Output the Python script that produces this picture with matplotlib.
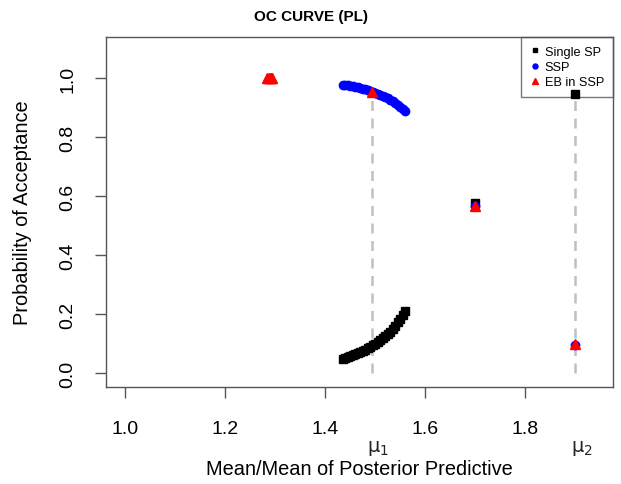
import matplotlib
matplotlib.use("Agg")
import matplotlib.pyplot as plt

plt.rcParams['font.family'] = ['Liberation Sans', 'DejaVu Sans']

# Single SP curve
single_x = [1.435, 1.44, 1.445, 1.45, 1.455, 1.46, 1.465, 1.47, 1.475, 1.48, 1.485, 1.49, 1.495,
            1.50, 1.505, 1.51, 1.515, 1.52, 1.525, 1.53, 1.535, 1.54, 1.545, 1.55, 1.555, 1.56,
            1.70, 1.90]
single_y = [0.047, 0.050, 0.053, 0.057, 0.060, 0.064, 0.068, 0.072, 0.076, 0.080, 0.085, 0.090, 0.095,
            0.100, 0.106, 0.112, 0.118, 0.125, 0.132, 0.140, 0.150, 0.160, 0.172, 0.185, 0.198, 0.212,
            0.575, 0.946]

ssp_x = [1.435, 1.44, 1.445, 1.45, 1.455, 1.46, 1.465, 1.47, 1.475, 1.48, 1.485, 1.49, 1.495,
         1.50, 1.505, 1.51, 1.515, 1.52, 1.525, 1.53, 1.535, 1.54, 1.545, 1.55, 1.555, 1.56,
         1.70, 1.90]
ssp_y = [0.977, 0.976, 0.975, 0.973, 0.972, 0.970, 0.968, 0.966, 0.964, 0.962, 0.959, 0.956, 0.953,
         0.950, 0.947, 0.943, 0.939, 0.935, 0.931, 0.926, 0.921, 0.916, 0.910, 0.903, 0.896, 0.888,
         0.567, 0.095]

eb_x = [1.284, 1.2865, 1.289, 1.2915, 1.294, 1.493, 1.70, 1.90]
eb_y = [1.0, 1.0, 1.0, 1.0, 1.0, 0.952, 0.565, 0.098]

mu_x = [1.493, 1.90]
mu_top = [0.952, 0.946]
mu_labels = [r'$\mathrm{\mu}_1$', r'$\mathrm{\mu}_2$']

x_ticks = [1.0, 1.2, 1.4, 1.6, 1.8]
y_ticks = [0.0, 0.2, 0.4, 0.6, 0.8, 1.0]

W, H = 621, 485
fig = plt.figure(figsize=(W / 100, H / 100), dpi=100)
ax = fig.add_axes([106 / W, 1 - 388 / H, (613 - 106) / W, (388 - 38) / H])

ax.vlines(mu_x, 0, mu_top, colors='#c0c0c0', linestyles=(0, (4, 3)), linewidth=1.8, zorder=1)
ax.plot(single_x, single_y, 's', color='black', markersize=6, linestyle='none', label='Single SP', zorder=3)
ax.plot(ssp_x, ssp_y, 'o', color='blue', markersize=6, linestyle='none', label='SSP', zorder=4)
ax.plot(eb_x, eb_y, '^', color='red', markersize=7, linestyle='none', label='EB in SSP', zorder=5)

ax.set_xlim(0.961, 1.975)
ax.set_ylim(-0.047, 1.139)
ax.set_xticks(x_ticks)
ax.set_xticklabels([])
ax.set_yticks(y_ticks)
ax.set_yticklabels([])
ax.tick_params(direction='out', length=8, width=1, color='#555555')
for s in ax.spines.values():
    s.set_color('#555555')
    s.set_linewidth(1)

# tick labels placed in pixel offsets from axes
for v in x_ticks:
    fig.text(ax.transData.transform((v, 0))[0] / W, 1 - 430 / H, f'{v:.1f}',
             ha='center', va='center', fontsize=14)
for v in y_ticks:
    fig.text(68 / W, ax.transData.transform((0, v))[1] / H, f'{v:.1f}',
             ha='center', va='center', fontsize=14, rotation=90)

for mx, lab in zip(mu_x, mu_labels):
    fig.text(ax.transData.transform((mx, 0))[0] / W + 6 / W, 1 - 448 / H, lab,
             ha='center', va='center', fontsize=14, color='#222222')

fig.text((106 + 613) / 2 / W, 1 - 470 / H, 'Mean/Mean of Posterior Predictive',
         ha='center', va='center', fontsize=14.4)
fig.text(23 / W, 1 - 213 / H, 'Probability of Acceptance',
         ha='center', va='center', fontsize=14.4, rotation=90)
fig.text(0.5, 1 - 17 / H, 'OC CURVE (PL)', ha='center', va='center', fontsize=11, fontweight='bold')

leg = ax.legend(loc='upper right', fontsize=9.2, markerscale=0.6, frameon=True, fancybox=False,
                borderaxespad=0, handlelength=0.8, handletextpad=0.4, labelspacing=0.25,
                borderpad=0.7)
leg.get_frame().set_edgecolor('#555555')
leg.get_frame().set_linewidth(1)
leg.set_zorder(2)

fig.savefig('out.png', dpi=100)
